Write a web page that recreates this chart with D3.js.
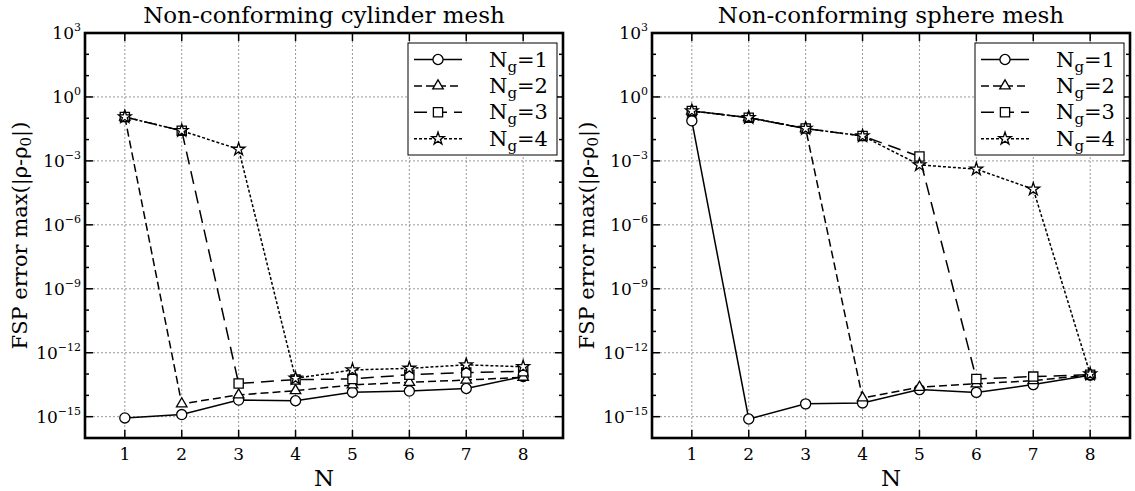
<!DOCTYPE html>
<html><head><meta charset="utf-8">
<script src="https://cdn.jsdelivr.net/npm/d3@7"></script>
<style>body{margin:0;background:#fff}svg{display:block}text{font-family:"DejaVu Serif",serif;fill:#000}</style>
</head><body><svg id="c" width="1135" height="491"></svg>
<script>
const Ns = [1,2,3,4,5,6,7,8];
const seriesNames = ["1","2","3","4"];
const yTickExps = [3,0,-3,-6,-9,-12,-15];
const cylTitle = "Non-conforming cylinder mesh";
const sphTitle = "Non-conforming sphere mesh";
const cylNg1 = [8.7e-16, 1.26e-15, 6.0e-15, 5.6e-15, 1.4e-14, 1.6e-14, 2.1e-14, 7.6e-14];
const cylNg2 = [0.115, 4.0e-15, 1.05e-14, 1.66e-14, 3.1e-14, 4.1e-14, 5.2e-14, 7.1e-14];
const cylNg3 = [0.115, 0.026, 3.6e-14, 5.5e-14, 5.9e-14, 9.3e-14, 1.17e-13, 1.35e-13];
const cylNg4 = [0.115, 0.026, 3.5e-3, 6.3e-14, 1.55e-13, 1.86e-13, 2.7e-13, 2.2e-13];
const sphNg1 = [0.076, 7.8e-16, 4.0e-15, 4.4e-15, 1.86e-14, 1.38e-14, 3.2e-14, 8.7e-14];
const sphNg2 = [0.22, 0.107, 0.033, 7.6e-15, 2.4e-14, 3.5e-14, 4.9e-14, 9.1e-14];
const sphNg3 = [0.22, 0.107, 0.033, 0.0148, 1.6e-3, 5.9e-14, 7.6e-14, 9.3e-14];
const sphNg4 = [0.22, 0.107, 0.033, 0.0148, 6.5e-4, 4.1e-4, 4.7e-5, 1.0e-13];

const styles = [
  {dash:null, sym:d3.symbolCircle, size:80},
  {dash:"8,4", sym:d3.symbolTriangle, size:48},
  {dash:"13,7", sym:d3.symbolSquare, size:85},
  {dash:"3,2", sym:d3.symbolStar, size:50}
];

const svg = d3.select("#c");
const plotTop = 33, plotBottom = 438, W = 478;

function sup(sel, base, exp){
  sel.append("tspan").text(base);
  sel.append("tspan").attr("dy",-8).attr("font-size",11).text(exp);
}

function panel(x0, title, data){
  const g = svg.append("g");
  const x = d3.scaleLinear().domain([0.3,8.7]).range([x0, x0+W]);
  const y = d3.scaleLog().domain([1e-16,1e3]).range([plotBottom, plotTop]);
  Ns.forEach(n=>g.append("line").attr("x1",x(n)).attr("x2",x(n)).attr("y1",plotTop).attr("y2",plotBottom)
    .attr("stroke","#999").attr("stroke-width",1).attr("stroke-dasharray","2,2"));
  yTickExps.forEach(e=>g.append("line").attr("x1",x0).attr("x2",x0+W).attr("y1",y(Math.pow(10,e))).attr("y2",y(Math.pow(10,e)))
    .attr("stroke","#999").attr("stroke-width",1).attr("stroke-dasharray","2,2"));
  const tk = g.append("g").attr("stroke","#000");
  Ns.forEach(n=>{
    tk.append("line").attr("x1",x(n)).attr("x2",x(n)).attr("y1",plotBottom).attr("y2",plotBottom-8).attr("stroke-width",1.5);
    tk.append("line").attr("x1",x(n)).attr("x2",x(n)).attr("y1",plotTop).attr("y2",plotTop+8).attr("stroke-width",1.5);
  });
  d3.range(-16,4).forEach(e=>{
    const major = yTickExps.includes(e);
    const len = major?8:4, yy = y(Math.pow(10,e));
    tk.append("line").attr("x1",x0).attr("x2",x0+len).attr("y1",yy).attr("y2",yy).attr("stroke-width",1.5);
    tk.append("line").attr("x1",x0+W).attr("x2",x0+W-len).attr("y1",yy).attr("y2",yy).attr("stroke-width",1.5);
  });
  Ns.forEach(n=>g.append("text").attr("x",x(n)).attr("y",plotBottom+22).attr("text-anchor","middle").attr("font-size",17).text(n));
  yTickExps.forEach(e=>{
    const t = g.append("text").attr("x",x0-4).attr("y",y(Math.pow(10,e))+6).attr("text-anchor","end").attr("font-size",17);
    sup(t,"10", e<0 ? "\u2212"+(-e) : String(e));
  });
  const line = d3.line().x((d,i)=>x(Ns[i])).y(d=>y(d));
  data.forEach((s,k)=>{
    const st = styles[k];
    g.append("path").attr("d",line(s)).attr("fill","none").attr("stroke","#000").attr("stroke-width",1.5)
      .attr("stroke-dasharray",st.dash);
    s.forEach((v,i)=>g.append("path").attr("d",d3.symbol(st.sym,st.size)())
      .attr("transform",`translate(${x(Ns[i])},${y(v)})`).attr("fill","#fff").attr("stroke","#000").attr("stroke-width",1.3));
  });
  g.append("rect").attr("x",x0).attr("y",plotTop).attr("width",W).attr("height",plotBottom-plotTop)
    .attr("fill","none").attr("stroke","#000").attr("stroke-width",2.6);
  g.append("text").attr("x",x0+W/2).attr("y",23).attr("text-anchor","middle").attr("font-size",23).text(title);
  g.append("text").attr("x",x0+W/2).attr("y",486).attr("text-anchor","middle").attr("font-size",23).text("N");
  const yl = g.append("text").attr("transform",`translate(${x0-58},${(plotTop+plotBottom)/2}) rotate(-90)`)
    .attr("text-anchor","middle").attr("font-size",21);
  yl.append("tspan").text("FSP error max(|\u03c1-\u03c1");
  yl.append("tspan").attr("dy",4).attr("font-size",15).text("0");
  yl.append("tspan").attr("dy",-4).text("|)");
  const lx = x0+W-155, ly = plotTop+10;
  const lg = g.append("g");
  lg.append("rect").attr("x",lx).attr("y",ly).attr("width",149).attr("height",112)
    .attr("fill","#fff").attr("stroke","#000").attr("stroke-width",1);
  seriesNames.forEach((nm,k)=>{
    const st = styles[k], yy = ly+16.5+k*26.4;
    lg.append("line").attr("x1",lx+6).attr("x2",lx+54).attr("y1",yy).attr("y2",yy)
      .attr("stroke","#000").attr("stroke-width",1.5).attr("stroke-dasharray",st.dash);
    lg.append("path").attr("d",d3.symbol(st.sym,st.size)()).attr("transform",`translate(${lx+30},${yy})`)
      .attr("fill","#fff").attr("stroke","#000").attr("stroke-width",1.3);
    const t = lg.append("text").attr("x",lx+81).attr("y",yy+7).attr("font-size",21);
    t.append("tspan").text("N");
    t.append("tspan").attr("dy",5).attr("font-size",15).text("g");
    t.append("tspan").attr("dy",-5).text("="+nm);
  });
}

panel(85, cylTitle, [cylNg1,cylNg2,cylNg3,cylNg4]);
panel(652, sphTitle, [sphNg1,sphNg2,sphNg3,sphNg4]);
</script></body></html>
